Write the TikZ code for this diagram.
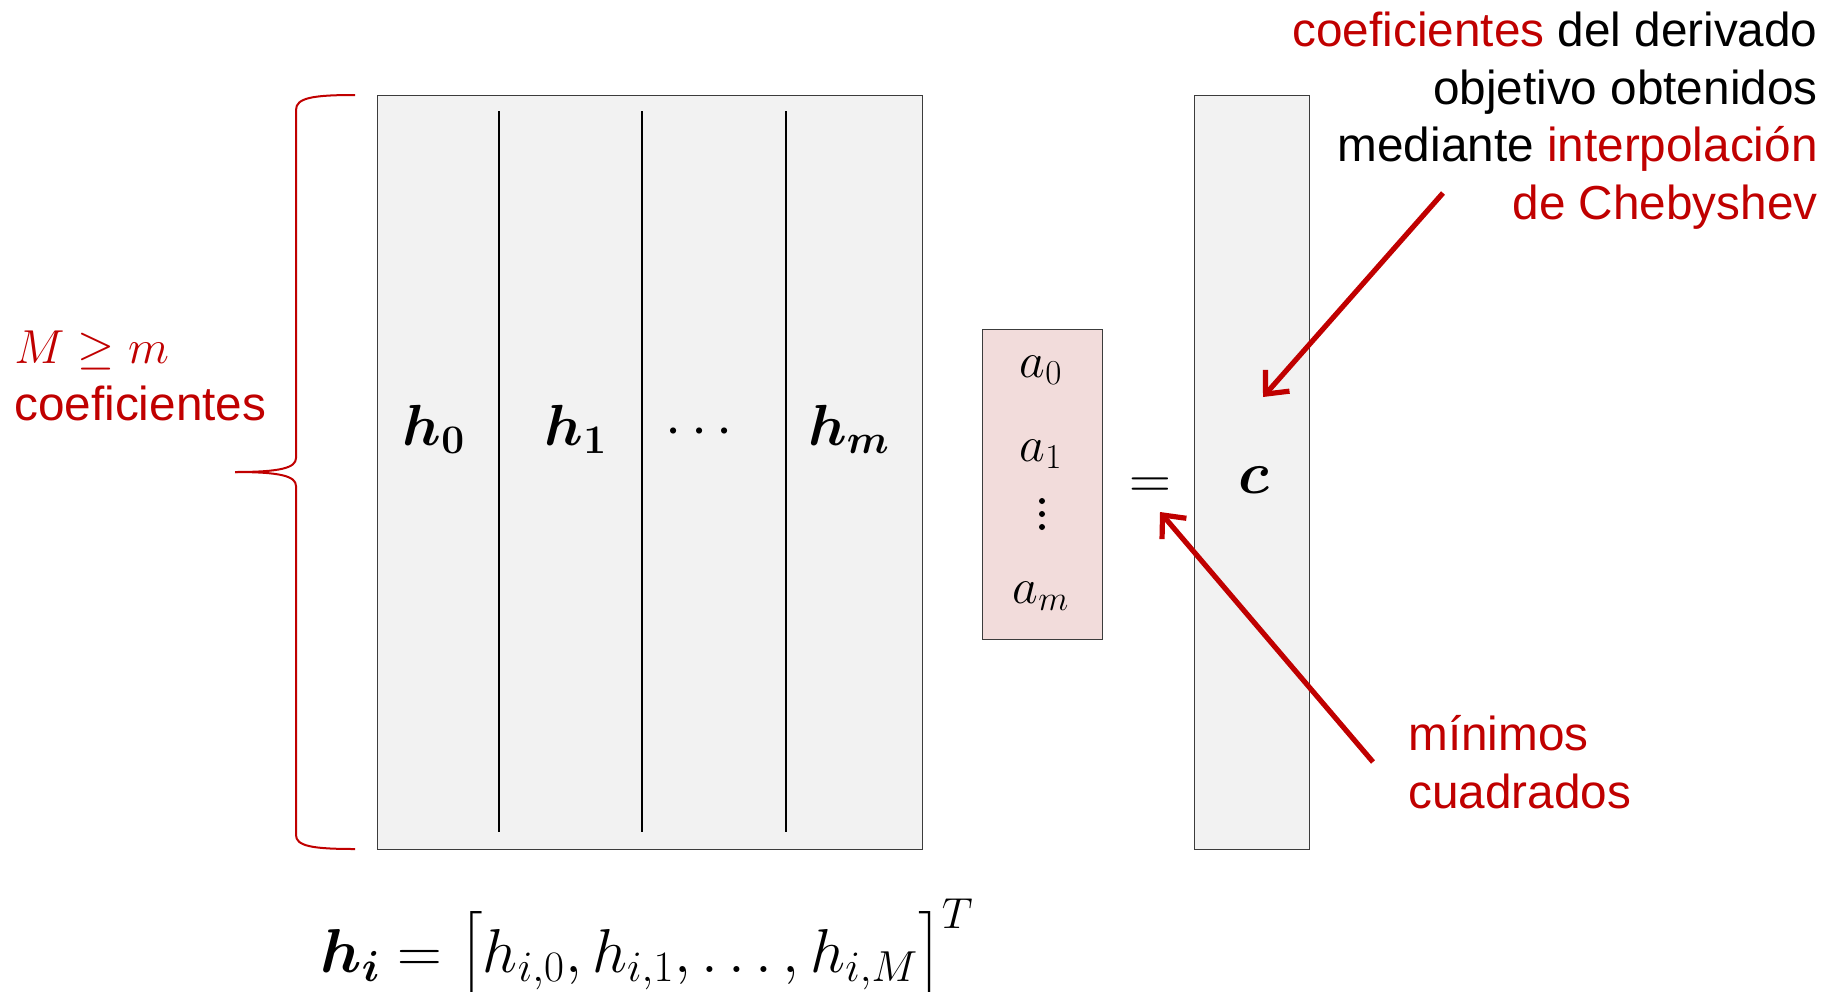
\RequirePackage{fix-cm}
\documentclass[tikz,border=0pt]{standalone}
\usepackage{amsmath,bm}
\usepackage{fontspec}
\setmainfont{Liberation Sans}
\usetikzlibrary{arrows.meta}
\definecolor{dred}{RGB}{192,0,0}
\definecolor{boxgray}{RGB}{242,242,242}
\definecolor{boxpink}{RGB}{242,220,219}
\definecolor{edgegray}{RGB}{60,60,60}
\begin{document}
\begin{tikzpicture}[x=0.5pt,y=-0.5pt,
  matbox/.style={draw=edgegray, line width=0.6pt, fill=boxgray, inner sep=0pt, anchor=north west},
  vecbox/.style={draw=edgegray, line width=0.6pt, fill=boxpink, inner sep=0pt, anchor=north west},
  colsep/.style={line width=1pt, black},
  note/.style={font=\fontsize{23.85}{28.75}\selectfont, inner sep=0pt},
  redarrow/.style={draw=dred, line width=2.6pt, -{Straight Barb[length=9pt,width=16pt,line width=2.6pt]}},
  bracestyle/.style={draw=dred, line width=1pt},
  hlabel/.style={inner sep=0pt, anchor=base, font=\fontsize{29}{34}\selectfont},
  alabel/.style={inner sep=0pt, anchor=base, font=\fontsize{25}{30}\selectfont},
  vdot/.style={circle, fill=black, inner sep=0pt, minimum size=3pt},
]
\useasboundingbox (0,0) rectangle (1837,991);

% boxes
\node[matbox, minimum width=272.5pt, minimum height=377pt] (H) at (377,95) {};
\node[vecbox, minimum width=60pt, minimum height=155pt] (A) at (982,329) {};
\node[matbox, minimum width=57.5pt, minimum height=377pt] (C) at (1194,95) {};

% column separators
\draw[colsep] (499,111) -- (499,832);
\draw[colsep] (642,111) -- (642,832);
\draw[colsep] (786,111) -- (786,832);

% column labels
\node[hlabel] (h0) at (434,445) {$\bm{h}_{\bm{0}}$};
\node[hlabel] (h1) at (576,445) {$\bm{h}_{\bm{1}}$};
\node[hlabel] (hd) at (704,445) {$\cdots$};
\node[hlabel] (hm) at (849,445) {$\bm{h}_{\bm{m}}$};

% vector entries
\node[alabel] (a0) at (1041,377) {$a_0$};
\node[alabel] (a1) at (1041,461) {$a_1$};
\node[vdot] (d1) at (1042,501) {};
\node[vdot] (d2) at (1042,514) {};
\node[vdot] (d3) at (1042,527) {};
\node[alabel] (am) at (1041,603) {$a_m$};

% equals and c
\node[inner sep=0pt, font=\fontsize{29}{34}\selectfont] (eq) at (1150,488) {$=$};
\node[inner sep=0pt, font=\fontsize{30}{34}\selectfont] (c) at (1254,480) {$\bm{c}$};

% brace
\draw[bracestyle] (355,95) .. controls (312,95) and (296,98) .. (296,110) -- (296,458)
  .. controls (296,468) and (280,472) .. (235,472);
\draw[bracestyle] (235,472) .. controls (280,472) and (296,476) .. (296,486) -- (296,835)
  .. controls (296,846) and (312,849) .. (355,849);

% left label
\node[note, align=left, anchor=north west, text=dred] (mlab) at (14,330) {$M \geq m$\\coeficientes};

% top right note
\node[note, align=right, anchor=north east] (cheb) at (1818,12)
  {\textcolor{dred}{coeficientes} del derivado\\
   objetivo obtenidos\\
   mediante \textcolor{dred}{interpolación}\\
   \textcolor{dred}{de Chebyshev}};

% least squares note
\node[note, align=left, anchor=north west, text=dred] (ls) at (1408,715) {mínimos\\cuadrados};

% arrows
\coordinate (s1) at (1443,193);
\coordinate (e1) at (1263,397);
\draw[redarrow] (s1) -- (e1);
\coordinate (s2) at (1373,762);
\coordinate (e2) at (1160,512);
\draw[redarrow] (s2) -- (e2);

% bottom definition
\node[inner sep=0pt, anchor=base, font=\fontsize{31}{36}\selectfont] (hdef) at (647,972)
  {$\bm{h_i} = \bigl[h_{i,0}, h_{i,1}, \ldots, h_{i,M}\bigr]^T$};
\end{tikzpicture}
\end{document}
